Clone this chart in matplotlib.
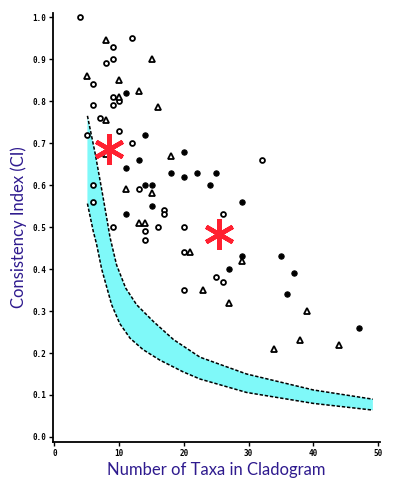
import matplotlib
matplotlib.use('Agg')
import matplotlib.pyplot as plt

# Open circles
open_x = [4, 9, 12, 8, 9, 6, 9, 10, 9, 6, 7, 5, 10, 12, 6, 6, 13, 17, 17, 9, 16, 20, 14, 14, 32, 26, 20, 25, 26, 20]
open_y = [1.0, 0.93, 0.95, 0.89, 0.90, 0.84, 0.81, 0.80, 0.79, 0.79, 0.76, 0.72, 0.73, 0.70, 0.60, 0.56,
          0.59, 0.54, 0.53, 0.50, 0.50, 0.50, 0.49, 0.47, 0.66, 0.53, 0.44, 0.38, 0.37, 0.35]

# Filled circles
fill_x = [11, 14, 13, 11, 20, 18, 20, 22, 14, 15, 15, 11, 25, 24, 29, 29, 27, 35, 37, 36, 47]
fill_y = [0.82, 0.72, 0.66, 0.64, 0.68, 0.63, 0.62, 0.63, 0.60, 0.60, 0.55, 0.53, 0.63, 0.60, 0.56,
          0.43, 0.40, 0.43, 0.39, 0.34, 0.26]

# Open triangles
tri_x = [8, 15, 5, 10, 13, 10, 16, 8, 8, 18, 11, 15, 13, 14, 21, 29, 23, 27, 39, 38, 44, 34]
tri_y = [0.945, 0.90, 0.86, 0.85, 0.825, 0.81, 0.785, 0.755, 0.675, 0.67, 0.59, 0.58, 0.51, 0.51,
         0.44, 0.42, 0.35, 0.32, 0.30, 0.23, 0.22, 0.21]

# Red asterisks
star_x = [8.5, 25.4]
star_y = [0.685, 0.483]

# Band edges
upper_x = [5.1, 6.3, 7.3, 8.1, 8.6, 9.6, 11.0, 12.7, 15.3, 18.4, 22.5, 29.7, 40.0, 49.2]
upper_y = [0.765, 0.675, 0.590, 0.520, 0.475, 0.410, 0.355, 0.315, 0.275, 0.232, 0.190, 0.150, 0.112, 0.090]
lower_x = [5.1, 6.0, 6.5, 7.3, 8.84, 10.1, 11.7, 13.7, 16.3, 19.9, 22.5, 29.7, 40.0, 49.2]
lower_y = [0.556, 0.490, 0.460, 0.400, 0.315, 0.270, 0.235, 0.208, 0.183, 0.155, 0.138, 0.106, 0.080, 0.064]

xticks = [0, 10, 20, 30, 40, 50]
yticks = [0.0, 0.1, 0.2, 0.3, 0.4, 0.5, 0.6, 0.7, 0.8, 0.9, 1.0]

label_color = '#2e1a8e'

fig = plt.figure(figsize=(3.95, 4.92), dpi=100)
ax = fig.add_axes([0.134, 0.1016, 0.828, 0.872])

# band between the two curves
band_x = upper_x + lower_x[::-1]
band_y = upper_y + lower_y[::-1]
ax.fill(band_x, band_y, color='#7ff9f9', lw=0, zorder=1)
ax.plot(upper_x, upper_y, color='black', ls=(0, (2.2, 1.2)), lw=1.1, solid_joinstyle='round', zorder=2)
ax.plot(lower_x, lower_y, color='black', ls=(0, (2.2, 1.2)), lw=1.1, solid_joinstyle='round', zorder=2)

ax.plot(open_x, open_y, 'o', ms=3.5, mfc='white', mec='black', mew=1.3, ls='none', zorder=3)
ax.plot(fill_x, fill_y, 'o', ms=3.8, mfc='black', mec='black', mew=0.8, ls='none', zorder=3)
ax.plot(tri_x, tri_y, '^', ms=4.6, mfc='white', mec='black', mew=1.3, ls='none', zorder=3)

ax.plot(star_x, star_y, marker=(6, 2, 0), ms=22, mec='#ff2030', mew=3.2, ls='none', zorder=4)

ax.set_xlim(-0.23, 50.3)
ax.set_ylim(-0.012, 1.01)
ax.spines['top'].set_visible(False)
ax.spines['right'].set_visible(False)
ax.spines['left'].set_linewidth(1.3)
ax.spines['bottom'].set_linewidth(1.3)

ax.set_xticks(xticks)
ax.set_yticks(yticks)
ax.set_xticklabels([str(t) for t in xticks])
ax.set_yticklabels([f'{t:.1f}' for t in yticks])
ax.tick_params(axis='both', direction='out', length=3, width=1, pad=2)
for lab in ax.get_xticklabels() + ax.get_yticklabels():
    lab.set_fontfamily('DejaVu Sans Mono')
    lab.set_fontweight('bold')
    lab.set_fontsize(5.5)

ax.set_xlabel('Number of Taxa in Cladogram', fontsize=12, color=label_color, family='Lato', labelpad=3)
ax.set_ylabel('Consistency Index (CI)', fontsize=12, color=label_color, family='Lato', labelpad=4)

fig.savefig('out.png', dpi=100)
